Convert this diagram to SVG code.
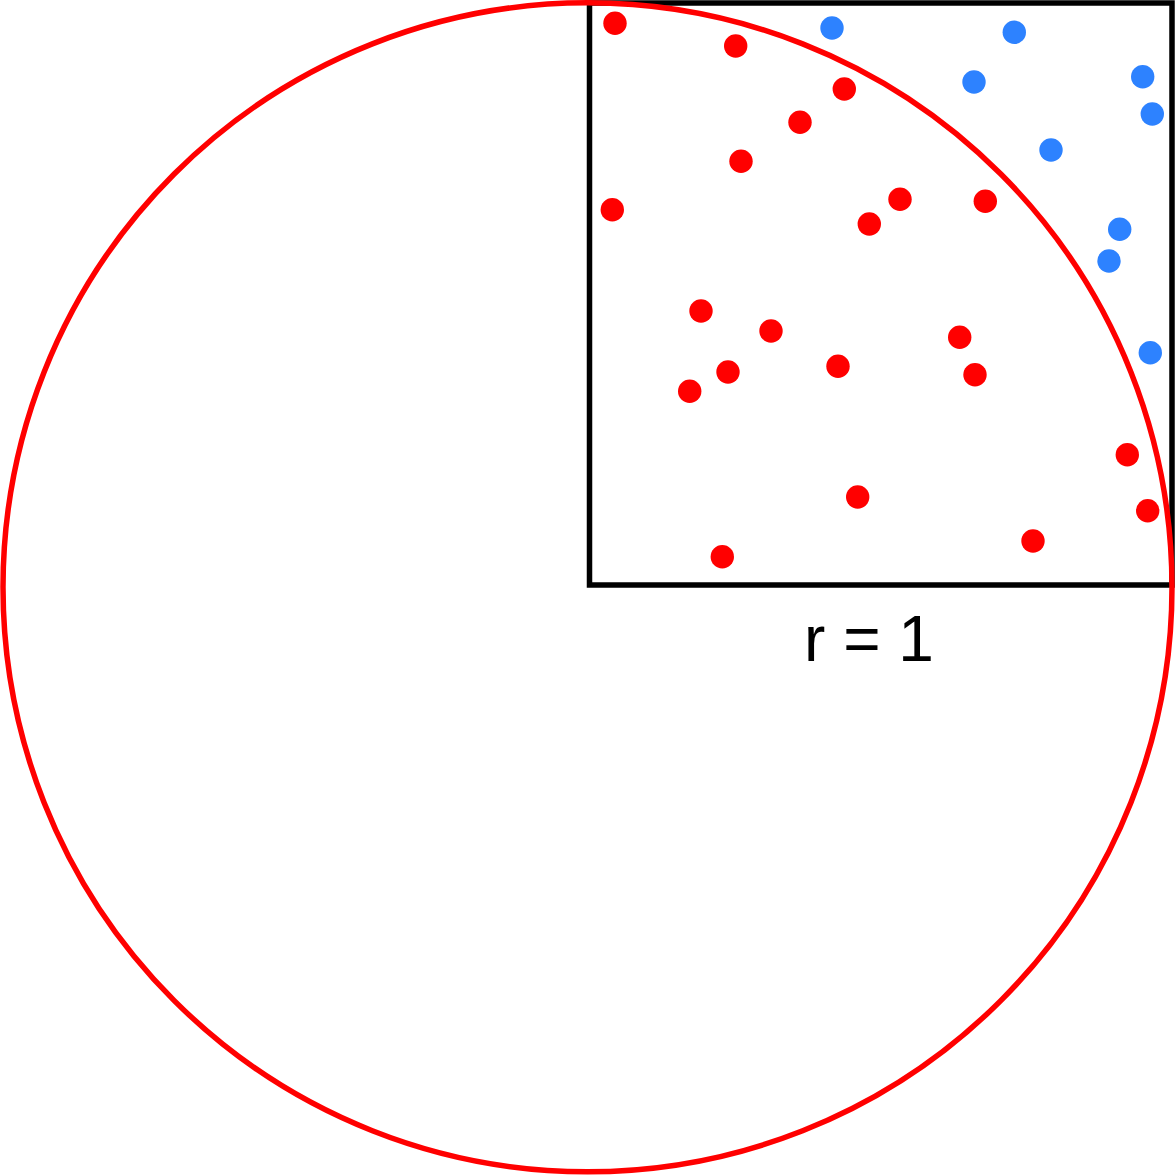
<svg xmlns="http://www.w3.org/2000/svg" width="1176" height="1176" viewBox="0 0 1176 1176">
  <style>
    .in { fill: #ff0000; }
    .out { fill: #2d82ff; }
    .label { font-family: "Liberation Sans", Arial, sans-serif; font-size: 64px; fill: #000000; }
  </style>
  <rect width="1176" height="1176" fill="#ffffff"/>
  <g id="square">
    <rect x="589.5" y="3" width="582.5" height="582" fill="none" stroke="#000000" stroke-width="5.5"/>
  </g>
  <g id="circle">
    <circle cx="587.5" cy="587.3" r="584.5" fill="none" stroke="#ff0000" stroke-width="5.5"/>
  </g>
  <g id="points-inside">
    <circle class="in" cx="615" cy="23.3" r="11.7"/>
    <circle class="in" cx="735.7" cy="46" r="11.7"/>
    <circle class="in" cx="844.3" cy="89" r="11.7"/>
    <circle class="in" cx="800" cy="122.3" r="11.7"/>
    <circle class="in" cx="741" cy="161.3" r="11.7"/>
    <circle class="in" cx="612.3" cy="209.7" r="11.7"/>
    <circle class="in" cx="869.3" cy="224" r="11.7"/>
    <circle class="in" cx="900" cy="199.3" r="11.7"/>
    <circle class="in" cx="985.3" cy="201.3" r="11.7"/>
    <circle class="in" cx="701" cy="311" r="11.7"/>
    <circle class="in" cx="771" cy="331" r="11.7"/>
    <circle class="in" cx="728" cy="372" r="11.7"/>
    <circle class="in" cx="689.7" cy="391.3" r="11.7"/>
    <circle class="in" cx="838" cy="366.3" r="11.7"/>
    <circle class="in" cx="857.7" cy="497" r="11.7"/>
    <circle class="in" cx="722.3" cy="556.7" r="11.7"/>
    <circle class="in" cx="959.7" cy="337.3" r="11.7"/>
    <circle class="in" cx="975" cy="374.7" r="11.7"/>
    <circle class="in" cx="1127.3" cy="454.7" r="11.7"/>
    <circle class="in" cx="1147.7" cy="510.7" r="11.7"/>
    <circle class="in" cx="1033" cy="541" r="11.7"/>
  </g>
  <g id="points-outside">
    <circle class="out" cx="832" cy="28" r="11.7"/>
    <circle class="out" cx="1014.3" cy="32.3" r="11.7"/>
    <circle class="out" cx="974" cy="82" r="11.7"/>
    <circle class="out" cx="1142.7" cy="76.7" r="11.7"/>
    <circle class="out" cx="1152.3" cy="114" r="11.7"/>
    <circle class="out" cx="1051" cy="150" r="11.7"/>
    <circle class="out" cx="1119.7" cy="229.3" r="11.7"/>
    <circle class="out" cx="1109" cy="261" r="11.7"/>
    <circle class="out" cx="1150.3" cy="352.7" r="11.7"/>
  </g>
  <g id="connectors"/>
  <g id="label">
    <text class="label" x="869" y="661" text-anchor="middle">r = 1</text>
  </g>
</svg>
